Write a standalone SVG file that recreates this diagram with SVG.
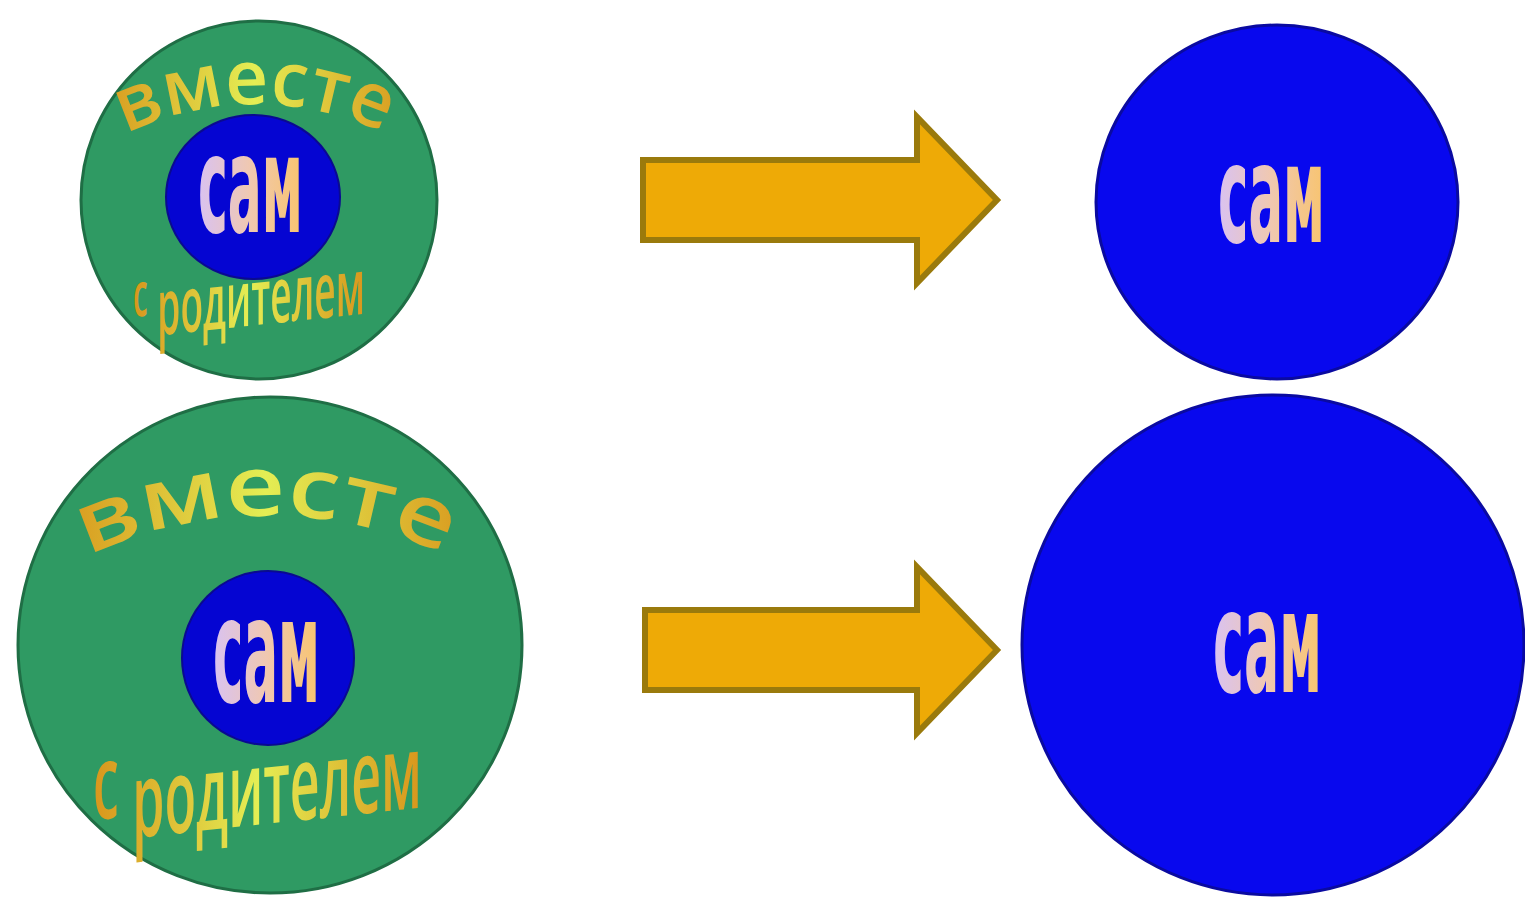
<svg xmlns="http://www.w3.org/2000/svg" width="1525" height="898" viewBox="0 0 1525 898">
<style>
.green{fill:#2f9a63;stroke:#1f6e45;stroke-width:3}
.inner{fill:#0505d2;stroke:#0a0a90;stroke-width:2}
.blue{fill:#0808ee;stroke:#0a0aa0;stroke-width:3}
.arrow{fill:#eeaa06;stroke:#9a7a0c;stroke-width:6;stroke-linejoin:miter}
.sam{font-family:"DejaVu Sans","Liberation Sans",sans-serif;font-weight:bold;fill:url(#samGrad);text-anchor:start}
.word{font-family:"Open Sans","DejaVu Sans",sans-serif;font-weight:600;fill:url(#wordGrad)}
</style>
<defs>
<linearGradient id="samGrad" x1="0" y1="0" x2="1" y2="0">
<stop offset="0" stop-color="#d9c2f2"/>
<stop offset="0.5" stop-color="#f0c8b0"/>
<stop offset="1" stop-color="#f8c46e"/>
</linearGradient>
<linearGradient id="wordGrad" x1="0" y1="0" x2="1" y2="0">
<stop offset="0" stop-color="#d8961c"/>
<stop offset="0.5" stop-color="#e4ee54"/>
<stop offset="1" stop-color="#d8961c"/>
</linearGradient>
<path id="arcTop" d="M 126 134 A 300 300 0 0 1 386 134"/>
<path id="arcBottom" d="M 88 556 A 422 422 0 0 1 448 556"/>
</defs>
<rect width="1525" height="898" fill="#ffffff"/>

<g id="node-top-left">
<ellipse class="green" cx="259" cy="200" rx="178" ry="179"/>
<ellipse class="inner" cx="253" cy="197" rx="87" ry="82"/>
<text class="sam" x="198" y="232" font-size="136" textLength="105" lengthAdjust="spacingAndGlyphs">сам</text>
<text class="word" font-size="76"><textPath href="#arcTop" textLength="266" lengthAdjust="spacingAndGlyphs">вместе</textPath></text>
<text class="word" font-size="78" transform="translate(133 338) skewY(-6)" textLength="232" lengthAdjust="spacingAndGlyphs"><tspan dy="-21" font-size="62">с</tspan><tspan dy="21"> родителем</tspan></text>
</g>

<g id="node-bottom-left">
<ellipse class="green" cx="270" cy="645" rx="252" ry="248"/>
<ellipse class="inner" cx="268" cy="658" rx="86" ry="87"/>
<text class="sam" x="213" y="702" font-size="146" textLength="107" lengthAdjust="spacingAndGlyphs">сам</text>
<text class="word" font-size="84"><textPath href="#arcBottom" textLength="368" lengthAdjust="spacingAndGlyphs">вместе</textPath></text>
<text class="word" font-size="104" transform="translate(93 842) skewY(-6)" textLength="329" lengthAdjust="spacingAndGlyphs"><tspan dy="-22">с</tspan><tspan dy="22"> родителем</tspan></text>
</g>

<g id="node-top-right">
<ellipse class="blue" cx="1277" cy="202" rx="181" ry="177"/>
<text class="sam" x="1218" y="242" font-size="138" textLength="107" lengthAdjust="spacingAndGlyphs">сам</text>
</g>

<g id="node-bottom-right">
<ellipse class="blue" cx="1273" cy="645" rx="251" ry="250"/>
<text class="sam" x="1213" y="692" font-size="142" textLength="109" lengthAdjust="spacingAndGlyphs">сам</text>
</g>

<g id="connectors">
<polygon class="arrow" points="643,160 917,160 917,117 997,200 917,283 917,240 643,240"/>
<polygon class="arrow" points="645,610 917,610 917,567 997,650 917,733 917,690 645,690"/>
</g>
</svg>
